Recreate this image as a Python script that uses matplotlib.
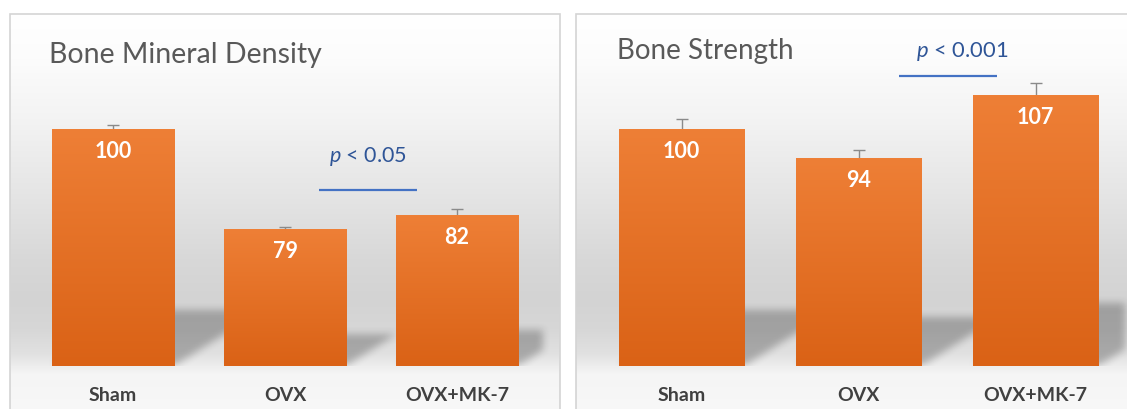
import numpy as np
import matplotlib
matplotlib.use("Agg")
import matplotlib.pyplot as plt
from matplotlib.colors import to_rgb
from matplotlib.patches import Rectangle

# ---------------- data ----------------
categories = ["Sham", "OVX", "OVX+MK-7"]
bmd_values = [100, 79, 82]
bmd_errors = [1.0, 0.6, 1.3]
strength_values = [100, 94, 107]
strength_errors = [2.1, 1.6, 2.8]
titles = ["Bone Mineral Density", "Bone Strength"]
p_labels = [r"$\mathit{p}$ < 0.05", r"$\mathit{p}$ < 0.001"]

# ---------------- style ----------------
FONT = "Lato"
plt.rcParams["font.family"] = [FONT, "DejaVu Sans"]
plt.rcParams["mathtext.fontset"] = "custom"
plt.rcParams["mathtext.it"] = FONT + ":italic"
plt.rcParams["mathtext.rm"] = FONT

W, H = 1127, 410
fig = plt.figure(figsize=(W / 100, H / 100), dpi=100)


def fx(px):
    return px / W


def fy(py):
    return 1 - py / H


BASE = 50.5
PXU = 4.78          # pixels per value unit
BASE_PY = 367
TOP_PY = 15
YMAX = BASE + (BASE_PY - TOP_PY) / PXU
BAR_W = 0.71

panels = [
    dict(x0=10, x1=560, xlim=(-0.6, 2.6), vals=bmd_values, errs=bmd_errors,
         title=titles[0], title_xy=(49, 63), title_fs=20.5, p=p_labels[0],
         p_xy=(1.483, 94.6), p_fs=15.5, p_line=(1.198, 1.770, 87.3)),
    dict(x0=576, x1=1142, xlim=(-0.596, 2.6), vals=strength_values, errs=strength_errors,
         title=titles[1], title_xy=(617, 59), title_fs=20, p=p_labels[1],
         p_xy=(1.585, 116.4), p_fs=15.8, p_line=(1.227, 1.782, 111.2)),
]

# background gradient stops (pixel y from top, gray level)
stops_y = [15, 60, 120, 200, 260, 300, 330, 355, 367, 375, 412]
stops_g = [255, 252, 243, 228, 216, 211, 215, 225, 238, 245, 248]

top_c = np.array(to_rgb("#EE7F36"))
bot_c = np.array(to_rgb("#DA6216"))

for P in panels:
    x0, x1 = P["x0"], P["x1"]
    # background panel
    axb = fig.add_axes([fx(x0), fy(412), fx(x1 - x0), (412 - TOP_PY) / H])
    axb.set_axis_off()
    rows = np.arange(TOP_PY, 412)
    g = np.interp(rows, stops_y, stops_g) / 255.0
    img = np.repeat(g[:, None, None], 3, axis=2)
    axb.imshow(img, extent=[0, 1, 0, 1], aspect="auto", transform=axb.transAxes,
               interpolation="bilinear", zorder=0)
    axb.set_xlim(0, 1)
    axb.set_ylim(0, 1)
    axb.add_patch(Rectangle((0, 0), 1, 1, transform=axb.transAxes, fill=False,
                            edgecolor="#d4d4d4", lw=1.2, zorder=5, clip_on=False))

    # data axes
    ax = fig.add_axes([fx(x0), fy(BASE_PY), fx(x1 - x0), (BASE_PY - TOP_PY) / H])
    ax.set_axis_off()
    ax.patch.set_alpha(0)
    xs = np.arange(len(categories))
    vals = np.array(P["vals"], dtype=float)
    errs = np.array(P["errs"], dtype=float)
    xl0, xl1 = P["xlim"]
    width_px = x1 - x0
    xpx = width_px / (xl1 - xl0)

    # shadows (perspective shadow behind each bar)
    ny = 90
    nx = int(width_px)
    cols = np.arange(nx)[None, :]
    rowsj = np.arange(ny)[:, None]
    mask = np.zeros((ny, nx))
    clip_px = (2.5 - xl0) * xpx
    for xi, v in zip(xs, vals):
        h_px = (v - BASE) * PXU
        sh = 0.233 * h_px
        dx = 0.37 * h_px
        lpx = (xi - BAR_W / 2 - xl0) * xpx
        rpx = (xi + BAR_W / 2 - xl0) * xpx
        t = rowsj / sh
        m = (rowsj < sh) & (cols >= lpx + t * dx) & (cols <= rpx + t * dx) & (cols <= clip_px)
        mask = np.maximum(mask, m.astype(float))
    k = 9
    kern = np.ones(k) / k
    for _ in range(2):
        mask = np.apply_along_axis(lambda r: np.convolve(r, kern, mode="same"), 1, mask)
        mask = np.apply_along_axis(lambda c: np.convolve(c, kern, mode="same"), 0, mask)
    rgba = np.zeros((ny, nx, 4))
    rgba[..., 3] = mask * 0.25
    ax.imshow(rgba, extent=[xl0, xl1, BASE, BASE + ny / PXU], origin="lower",
              aspect="auto", interpolation="bilinear", zorder=1)

    # error bars (drawn below bars so only the upper half shows)
    ax.errorbar(xs, vals, yerr=errs, fmt="none", ecolor="#8a8a8a", elinewidth=1.0,
                capsize=4, capthick=1.0, zorder=2)

    # bars with vertical gradient
    bars = ax.bar(xs, vals - BASE, bottom=BASE, width=BAR_W, color="none",
                  edgecolor="none", zorder=3)
    for b in bars:
        grad = np.linspace(0, 1, 100)[:, None]
        cimg = top_c[None, None, :] * (1 - grad[..., None]) + bot_c[None, None, :] * grad[..., None]
        ax.imshow(cimg, extent=[b.get_x(), b.get_x() + b.get_width(), b.get_y(),
                                b.get_y() + b.get_height()],
                  origin="upper", aspect="auto", interpolation="bilinear", zorder=3)

    # value labels
    for xi, v in zip(xs, vals):
        ax.text(xi, v - 21 / PXU, f"{int(v)}", ha="center", va="center",
                color="white", fontsize=15.5, fontweight="bold", zorder=6)

    # category labels
    for xi, c in zip(xs, categories):
        ax.text(xi, BASE - 29 / PXU, c, ha="center", va="center", color="#404040",
                fontsize=14, fontweight="bold", clip_on=False, zorder=6)

    # p-value annotation
    px_, py_ = P["p_xy"]
    ax.text(px_, py_, P["p"], ha="center", va="center", color="#2F5597",
            fontsize=P["p_fs"], zorder=6, clip_on=False)
    la, lb, ly = P["p_line"]
    ax.plot([la, lb], [ly, ly], color="#4472C4", lw=1.6, solid_capstyle="butt", zorder=6)

    ax.set_xlim(xl0, xl1)
    ax.set_ylim(BASE, YMAX)

    # title
    tx, ty = P["title_xy"]
    fig.text(fx(tx), fy(ty), P["title"], ha="left", va="baseline", color="#595959",
             fontsize=P["title_fs"])

fig.savefig("out.png", dpi=100)
